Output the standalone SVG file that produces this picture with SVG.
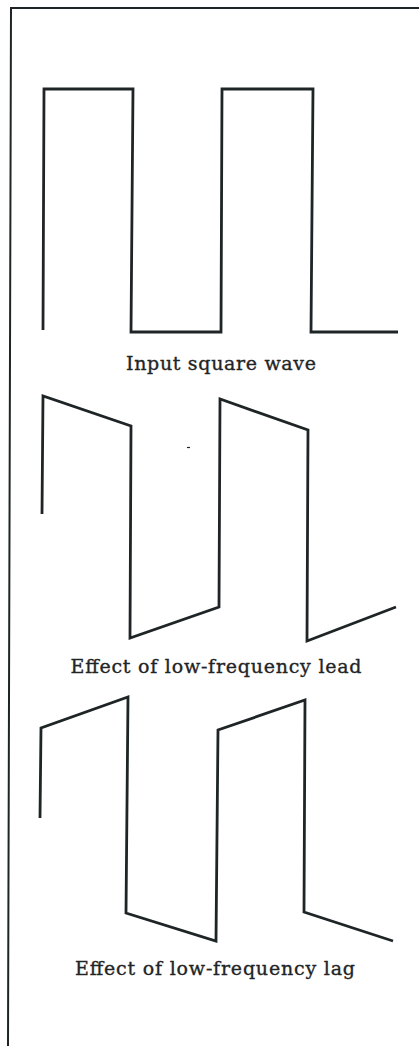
<svg xmlns="http://www.w3.org/2000/svg" width="419" height="1046" viewBox="0 0 419 1046">
<style>
.frame{fill:none;stroke:#1f2526;stroke-width:2}
.wave{fill:none;stroke:#1f2526;stroke-width:2.8;stroke-linejoin:miter;stroke-linecap:butt}
.lbl{font-family:"DejaVu Serif","Liberation Serif",serif;font-size:19px;fill:#1f2526;stroke:#1f2526;stroke-width:0.35;text-anchor:middle}
</style>
<rect width="419" height="1046" fill="#ffffff"/>
<g id="frame">
<polyline class="frame" points="419,8 11,8 8,1046"/>
</g>
<g id="input-wave">
<polyline class="wave" points="43,330 44,89 133,89 131,332 221,332 222,89 313,89 311,332 398,332"/>
<text class="lbl" x="221" y="370" textLength="190" lengthAdjust="spacing">Input square wave</text>
</g>
<g id="lead-wave">
<polyline class="wave" points="42,514 43,396 131,426 130,638 219,607 220,399 308,430 307,641 396,607"/>
<line x1="187" y1="447.5" x2="190" y2="447.5" stroke="#1f2526" stroke-width="1.2"/>
<text class="lbl" x="216" y="673" textLength="291" lengthAdjust="spacing">Effect of low-frequency lead</text>
</g>
<g id="lag-wave">
<polyline class="wave" points="40,818 41,728 128,697 126,913 216,941 218,730 305,700 304,912 393,941"/>
<text class="lbl" x="215" y="975" textLength="280" lengthAdjust="spacing">Effect of low-frequency lag</text>
</g>
</svg>
